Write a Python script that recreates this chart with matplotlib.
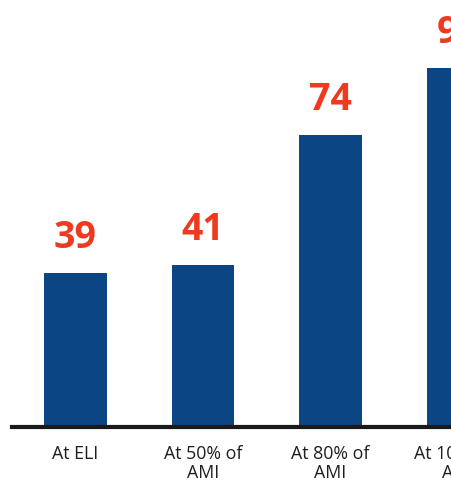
import matplotlib.pyplot as plt

# Data
categories = ["At ELI", "At 50% of\nAMI", "At 80% of\nAMI", "At 100% of\nAMI"]
values = [39, 41, 74, 91]

bar_color = "#0b4584"
label_color = "#ee3a1f"

plt.rcParams["font.family"] = ["Open Sans", "DejaVu Sans"]

W, H = 452, 481
fig = plt.figure(figsize=(W / 100, H / 100), dpi=100)

# axes runs past the right edge so the last bar is cut like in the scan
left_px, right_px = 11.75, 534.5
bottom_px = 53
ax = fig.add_axes([left_px / W, bottom_px / H, (right_px - left_px) / W, (H - bottom_px) / H])

x = range(len(values))
ax.bar(x, values, width=0.49, color=bar_color, zorder=2)

for xi, v in zip(x, values):
    ax.annotate(str(v), (xi, v), xytext=(0, 18.7), textcoords="offset points",
                ha="center", va="baseline", fontsize=27, fontweight="bold",
                color=label_color)

ax.set_xlim(-0.5, 3.6)
ax.set_ylim(0, (H - bottom_px) / 3.94)

ax.set_xticks(list(x))
ax.set_xticklabels(categories, fontsize=12.8, color="#1e1e1e", linespacing=1.05)
ax.tick_params(axis="x", length=0, pad=12.5)
ax.set_yticks([])

for side in ["top", "right", "left"]:
    ax.spines[side].set_visible(False)
ax.spines["bottom"].set_linewidth(3)
ax.spines["bottom"].set_color("#1a1a1a")
ax.spines["bottom"].set_zorder(3)

fig.savefig("out.png", dpi=100)
